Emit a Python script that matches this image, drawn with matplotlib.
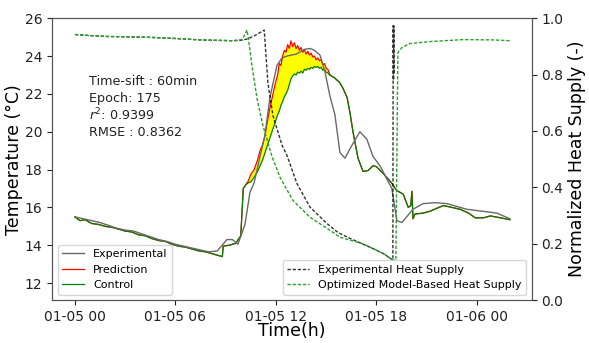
import numpy as np
import pandas as pd
import matplotlib
matplotlib.use("Agg")
import matplotlib.pyplot as plt
import matplotlib.dates as mdates

# ── data (hours after 01-05 00:00) ───────────────────────────────────────────
t0 = pd.Timestamp("2021-01-05 00:00")

exp_h = [0, 0.5, 1.0, 1.5, 2.0, 2.5, 3.0, 3.5, 4.0, 4.5, 5.0, 5.5, 6.0, 6.5,
         7.0, 7.5, 8.0, 8.5, 9.07, 9.4, 9.73, 10.15, 10.45, 10.7, 11.0, 11.34,
         11.64, 12.06, 12.36, 12.66, 13.2, 13.7, 14.03, 14.3, 14.63, 14.93,
         15.22, 15.52, 15.82, 16.12, 16.42, 17.01, 17.43, 17.79, 18.21, 18.92,
         19.22, 19.52, 20.18, 20.78, 21.5, 22.21, 23.4, 24.3, 25.19, 25.97]
exp_T = [15.5, 15.4, 15.3, 15.2, 15.05, 14.9, 14.8, 14.75, 14.6, 14.45, 14.3,
         14.2, 14.05, 13.95, 13.85, 13.75, 13.65, 13.7, 14.3, 14.3, 14.05, 15.1,
         16.8, 17.3, 18.5, 19.8, 21.8, 23.5, 23.9, 24.0, 24.1, 24.35, 24.4, 24.3,
         24.05, 23.15, 21.9, 20.9, 18.9, 18.6, 19.1, 20.0, 19.6, 18.7, 18.2, 17.0,
         15.3, 15.2, 15.9, 16.2, 16.25, 16.2, 15.9, 15.8, 15.7, 15.4]

model_h = [0, 0.3, 0.6, 1.0, 1.4, 1.8, 2.2, 2.6, 3.0, 3.4, 3.8, 4.2, 4.6, 5.0,
           5.4, 5.8, 6.2, 6.6, 7.0, 7.4, 7.8, 8.2, 8.6, 8.8, 8.85, 9.2, 9.6, 9.9,
           10.05, 10.2, 10.35, 10.5, 10.7, 10.9, 11.05, 11.2, 11.35, 11.5, 11.65,
           11.8, 11.95, 12.1, 12.2, 12.3, 12.4, 12.5, 12.6, 12.7, 12.8, 12.9,
           13.0, 13.1, 13.2, 13.3, 13.4, 13.5, 13.6, 13.7, 13.8, 13.9, 14.0,
           14.1, 14.2, 14.3, 14.4, 14.5, 14.6, 14.7, 14.8, 14.9, 15.0, 15.1,
           15.2, 15.3, 15.5, 15.8, 16.0, 16.25, 16.42, 16.6, 16.9, 17.2, 17.5,
           17.8, 18.0, 18.4, 18.9, 19.2, 19.6, 19.9, 20.05, 20.12, 20.18, 20.3,
           20.8, 21.2, 21.6, 22.0, 22.5, 23.0, 23.5, 23.9, 24.4, 24.8, 25.4, 25.97]
control_T = [15.5, 15.3, 15.35, 15.15, 15.1, 15.0, 14.95, 14.85, 14.75, 14.7,
             14.55, 14.5, 14.35, 14.25, 14.2, 14.05, 13.95, 13.9, 13.8, 13.7,
             13.65, 13.55, 13.45, 13.4, 13.95, 14.0, 14.1, 14.5,
             17.0, 17.2, 17.3, 17.35, 17.6, 17.9, 18.2, 18.5, 18.9, 19.3, 19.7,
             20.1, 20.5, 20.9, 21.1, 21.4, 21.6, 21.85, 22.0, 22.2, 22.5, 22.8,
             22.95, 23.05, 23.0, 23.15, 23.1, 23.2, 23.1, 23.3, 23.25, 23.35, 23.3,
             23.4, 23.35, 23.45, 23.4, 23.45, 23.35, 23.4, 23.25, 23.3, 23.15, 23.1,
             23.0, 22.95, 22.85, 22.6, 22.3, 21.8, 21.0, 20.0, 18.6, 17.9, 17.95,
             18.2, 18.15, 17.8, 17.3, 16.9, 16.7, 16.0, 16.1, 16.85, 15.4, 15.65,
             15.7, 15.8, 15.95, 16.1, 16.0, 15.9, 15.7, 15.45, 15.45, 15.55, 15.45, 15.35]
pred_T = [15.5, 15.3, 15.35, 15.15, 15.1, 15.0, 14.95, 14.85, 14.75, 14.7,
          14.55, 14.5, 14.35, 14.25, 14.2, 14.05, 13.95, 13.9, 13.8, 13.7,
          13.65, 13.55, 13.45, 13.4, 13.95, 14.0, 14.1, 14.5,
          17.0, 17.2, 17.4, 17.75, 18.0, 18.5, 19.0, 19.3, 19.8, 20.6, 21.3,
          21.9, 22.5, 23.0, 23.6, 23.5, 24.0, 24.3, 24.2, 24.6, 24.4, 24.8,
          24.5, 24.7, 24.4, 24.55, 24.3, 24.45, 24.2, 24.35, 24.1, 24.25, 24.05,
          24.15, 23.95, 24.0, 23.8, 23.9, 23.75, 23.8, 23.55, 23.6, 23.35, 23.3,
          23.05, 22.95, 22.85, 22.6, 22.3, 21.8, 21.0, 20.0, 18.6, 17.9, 17.95,
          18.2, 18.15, 17.8, 17.3, 16.9, 16.7, 16.0, 16.1, 16.85, 15.4, 15.65,
          15.7, 15.8, 15.95, 16.1, 16.0, 15.9, 15.7, 15.45, 15.45, 15.55, 15.45, 15.35]

heat_exp_h = [0, 1, 2, 3, 4.48, 6, 7.46, 9.43, 10.0, 10.33, 10.8, 11.3, 11.52,
              11.82, 12.36, 12.66, 13.25, 14.03, 15.04, 15.7, 16.42, 17.6, 18.39,
              18.98, 19.0, 19.02, 19.04, 19.06]
heat_exp_v = [0.942, 0.938, 0.935, 0.934, 0.932, 0.928, 0.923, 0.92, 0.922, 0.927,
              0.94, 0.958, 0.77, 0.655, 0.55, 0.513, 0.414, 0.33, 0.272, 0.24,
              0.219, 0.188, 0.166, 0.142, 0.973, 0.78, 0.973, 0.80]

heat_opt_h = [0, 1, 2, 3, 4.48, 6, 7.46, 9.43, 10.0, 10.27, 10.35, 10.57, 10.87,
              11.22, 11.76, 12.24, 13.01, 14.03, 15.22, 15.82, 17.19, 18.39,
              18.98, 19.16, 19.28, 19.52, 20.0, 21.19, 23.16, 24.95, 25.97]
heat_opt_v = [0.942, 0.938, 0.935, 0.934, 0.932, 0.928, 0.923, 0.92, 0.925, 0.958,
              0.93, 0.83, 0.715, 0.62, 0.51, 0.436, 0.354, 0.294, 0.248, 0.223,
              0.2, 0.166, 0.142, 0.142, 0.878, 0.896, 0.91, 0.917, 0.924, 0.923, 0.92]

stats_lines = ["Time-sift : 60min", "Epoch: 175", "$r^2$: 0.9399", "RMSE : 0.8362"]


def to_time(hours):
    return t0 + pd.to_timedelta(np.asarray(hours, dtype=float), unit="h")


fig, ax = plt.subplots(figsize=(5.89, 3.43), dpi=100)
fig.subplots_adjust(left=0.0883, right=0.903, top=0.947, bottom=0.125)
ax2 = ax.twinx()

t_model = to_time(model_h)
ax.fill_between(t_model, control_T, pred_T,
                where=np.array(pred_T) >= np.array(control_T),
                color="yellow", lw=0, zorder=1)
ax.plot(to_time(exp_h), exp_T, color="dimgray", lw=1.0, label="Experimental", zorder=3)
ax.plot(t_model, pred_T, color="red", lw=0.9, label="Prediction", zorder=2)
ax.plot(t_model, control_T, color="green", lw=0.9, label="Control", zorder=2.5)

ax2.plot(to_time(heat_exp_h), heat_exp_v, color="black", lw=1.0,
         dashes=(2.4, 1.3), alpha=0.8, label="Experimental Heat Supply")
ax2.plot(to_time(heat_opt_h), heat_opt_v, color="#2ca02c", lw=1.0,
         dashes=(2.4, 1.3), label="Optimized Model-Based Heat Supply")

ax.set_xlim(to_time([-1.37])[0], to_time([27.28])[0])
ax.set_ylim(11.1, 26)
ax.set_yticks(np.arange(12, 27, 2))
ax2.set_ylim(0, 1.0)
ax2.set_yticks(np.arange(0, 1.01, 0.2))
ax2.yaxis.set_major_formatter(plt.FormatStrFormatter("%.1f"))

ax.xaxis.set_major_locator(mdates.HourLocator(byhour=[0, 6, 12, 18]))
ax.xaxis.set_major_formatter(mdates.DateFormatter("%m-%d %H"))

for a in (ax, ax2):
    a.tick_params(labelsize=10, colors="#222222")
    for s in a.spines.values():
        s.set_color("#555555")

ax.set_xlabel("Time(h)", fontsize=12.5, labelpad=-1)
ax.set_ylabel("Temperature (\u00b0C)", fontsize=12.5, labelpad=1)
ax2.set_ylabel("Normalized Heat Supply (-)", fontsize=12.5, labelpad=3)

ax.legend(loc="lower left", fontsize=8)
ax2.legend(loc="lower right", fontsize=8)

for i, line in enumerate(stats_lines):
    ax.text(0.077, 0.775 - i * 0.06, line, transform=ax.transAxes,
            fontsize=9.2, color="#222222", va="center")

fig.savefig("out.png", dpi=100)
